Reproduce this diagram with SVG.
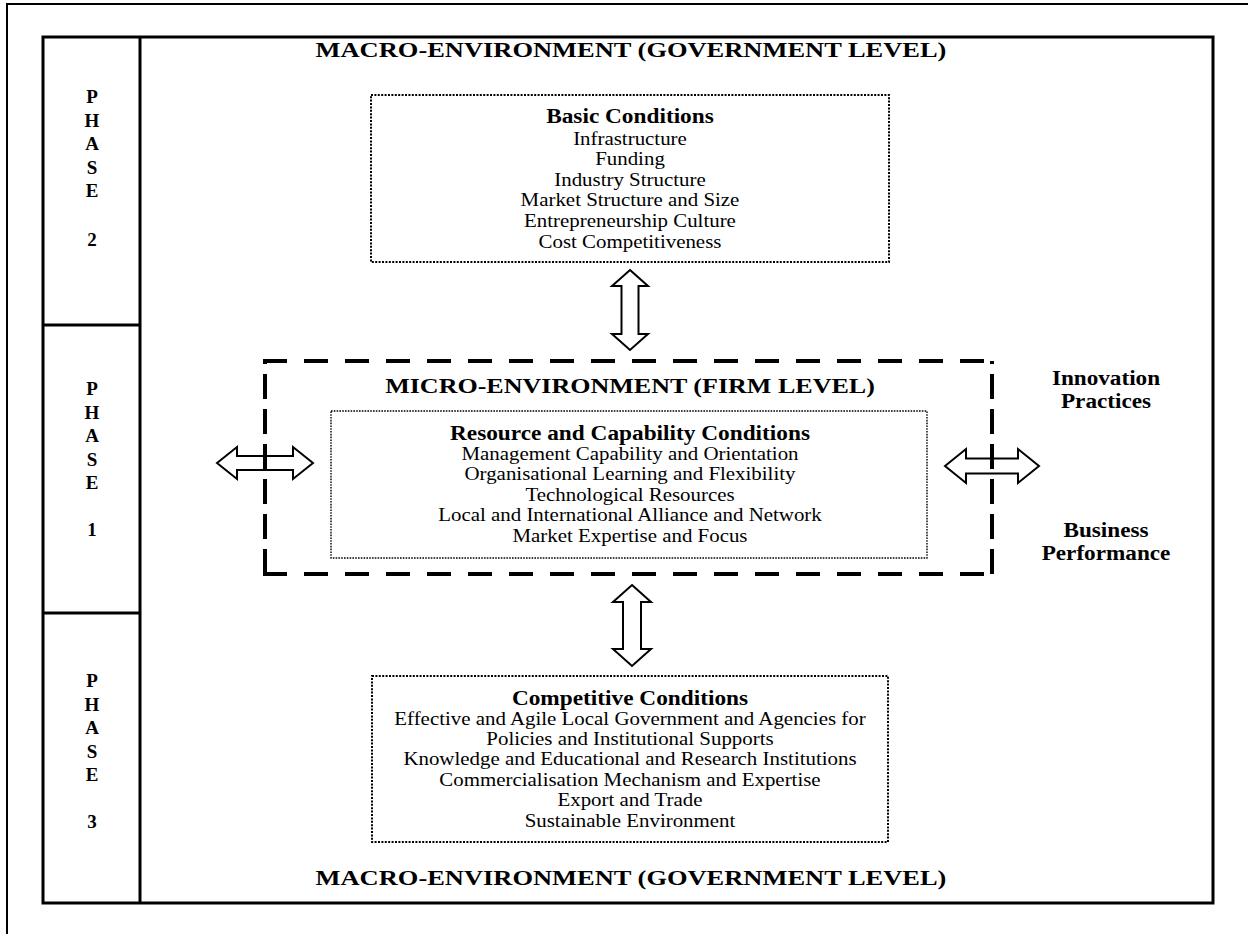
<svg xmlns="http://www.w3.org/2000/svg" width="1248" height="934" viewBox="0 0 1248 934">
<style>
.serif{font-family:"Liberation Serif","Times New Roman",serif;fill:#000}
.body{font-size:19px}
.sub{font-size:20px;font-weight:bold}
.ttl{font-size:21px;font-weight:bold}
.ph{font-size:19px;font-weight:bold}
.dot{fill:none;stroke:#000;stroke-width:2;stroke-dasharray:2 1.4}
.dotf{fill:none;stroke:#000;stroke-width:1.4;stroke-dasharray:1.6 1.2}
.thick{fill:none;stroke:#000;stroke-width:3}
.dh{fill:none;stroke:#000;stroke-width:4;stroke-dasharray:24 17}
.dv{fill:none;stroke:#000;stroke-width:4;stroke-dasharray:25 10}
.arr{fill:#fff;stroke:#000;stroke-width:2;stroke-linejoin:miter}
</style>
<rect width="1248" height="934" fill="#fff"/>
<g id="page-frame">
<path d="M7,934 L7,4 L1248,4" fill="none" stroke="#000" stroke-width="2"/>
</g>
<g id="frame">
<rect class="thick" x="43" y="37" width="1170" height="866"/>
<line class="thick" x1="140" y1="37" x2="140" y2="903"/>
</g>
<g id="phase2">
<line class="thick" x1="43" y1="325" x2="140" y2="325"/>
<g class="serif ph" text-anchor="middle">
<text x="92" y="103">P</text><text x="92" y="126.5">H</text><text x="92" y="150">A</text><text x="92" y="173.5">S</text><text x="92" y="197">E</text><text x="92" y="246">2</text>
</g>
</g>
<g id="phase1">
<line class="thick" x1="43" y1="613" x2="140" y2="613"/>
<g class="serif ph" text-anchor="middle">
<text x="92" y="395">P</text><text x="92" y="418.5">H</text><text x="92" y="442">A</text><text x="92" y="465.5">S</text><text x="92" y="489">E</text><text x="92" y="536">1</text>
</g>
</g>
<g id="phase3">
<g class="serif ph" text-anchor="middle">
<text x="92" y="687">P</text><text x="92" y="710.5">H</text><text x="92" y="734">A</text><text x="92" y="757.5">S</text><text x="92" y="781">E</text><text x="92" y="828">3</text>
</g>
</g>
<g id="macro-top">
<text class="serif ttl" text-anchor="middle" x="631" y="57" transform="matrix(1.26,0,0,1,-164.06,0)">MACRO-ENVIRONMENT (GOVERNMENT LEVEL)</text>
</g>
<g id="macro-bottom">
<text class="serif ttl" text-anchor="middle" x="631" y="885" transform="matrix(1.26,0,0,1,-164.06,0)">MACRO-ENVIRONMENT (GOVERNMENT LEVEL)</text>
</g>
<g id="connectors">
<path class="arr" d="M630,270 L648,286 L638.5,286 L638.5,334 L648,334 L630,350 L612,334 L621.5,334 L621.5,286 L612,286 Z"/>
<path class="arr" d="M632,585 L651,602 L641,602 L641,649 L651,649 L632,666 L613,649 L623,649 L623,602 L613,602 Z"/>
<path class="arr" d="M217,463 L237,447 L237,456 L293,456 L293,447 L313,463 L293,479 L293,470 L237,470 L237,479 Z"/>
<path class="arr" d="M945,466 L966,449 L966,458.5 L1018,458.5 L1018,449 L1039,466 L1018,483 L1018,473.5 L966,473.5 L966,483 Z"/>
</g>
<g id="basic-conditions">
<rect class="dot" x="371" y="95" width="518" height="167"/>
<text class="serif sub" text-anchor="middle" x="630" y="123" transform="matrix(1.165,0,0,1,-103.95,0)">Basic Conditions</text>
<g class="serif body" text-anchor="middle" transform="matrix(1.1,0,0,1,-63,0)">
<text x="630" y="145">Infrastructure</text>
<text x="630" y="165.5">Funding</text>
<text x="630" y="186">Industry Structure</text>
<text x="630" y="206.5">Market Structure and Size</text>
<text x="630" y="227">Entrepreneurship Culture</text>
<text x="630" y="248">Cost Competitiveness</text>
</g>
</g>
<g id="micro-environment">
<path class="dh" d="M263,361 H994 M263,574 H994"/>
<path class="dv" d="M265,574 V361 M992,574 V361"/>
<text class="serif ttl" text-anchor="middle" x="630" y="393" transform="matrix(1.24,0,0,1,-151.2,0)">MICRO-ENVIRONMENT (FIRM LEVEL)</text>
</g>
<g id="resource-capability">
<rect class="dotf" x="331" y="411" width="596" height="147"/>
<text class="serif sub" text-anchor="middle" x="630" y="440" transform="matrix(1.165,0,0,1,-103.95,0)">Resource and Capability Conditions</text>
<g class="serif body" text-anchor="middle" transform="matrix(1.1,0,0,1,-63,0)">
<text x="630" y="460">Management Capability and Orientation</text>
<text x="630" y="480.5">Organisational Learning and Flexibility</text>
<text x="630" y="501">Technological Resources</text>
<text x="630" y="521.5">Local and International Alliance and Network</text>
<text x="630" y="542">Market Expertise and Focus</text>
</g>
</g>
<g id="competitive-conditions">
<rect class="dot" x="372" y="676" width="516" height="166"/>
<text class="serif sub" text-anchor="middle" x="630" y="705" transform="matrix(1.165,0,0,1,-103.95,0)">Competitive Conditions</text>
<g class="serif body" text-anchor="middle" transform="matrix(1.1,0,0,1,-63,0)">
<text x="630" y="725">Effective and Agile Local Government and Agencies for</text>
<text x="630" y="745.5">Policies and Institutional Supports</text>
<text x="630" y="765.5">Knowledge and Educational and Research Institutions</text>
<text x="630" y="786">Commercialisation Mechanism and Expertise</text>
<text x="630" y="806.5">Export and Trade</text>
<text x="630" y="827">Sustainable Environment</text>
</g>
</g>
<g id="innovation-practices">
<g class="serif sub" text-anchor="middle" transform="matrix(1.16,0,0,1,-176.96,0)">
<text x="1106" y="385">Innovation</text>
<text x="1106" y="408">Practices</text>
</g>
</g>
<g id="business-performance">
<g class="serif sub" text-anchor="middle" transform="matrix(1.16,0,0,1,-176.96,0)">
<text x="1106" y="537">Business</text>
<text x="1106" y="560">Performance</text>
</g>
</g>
</svg>
